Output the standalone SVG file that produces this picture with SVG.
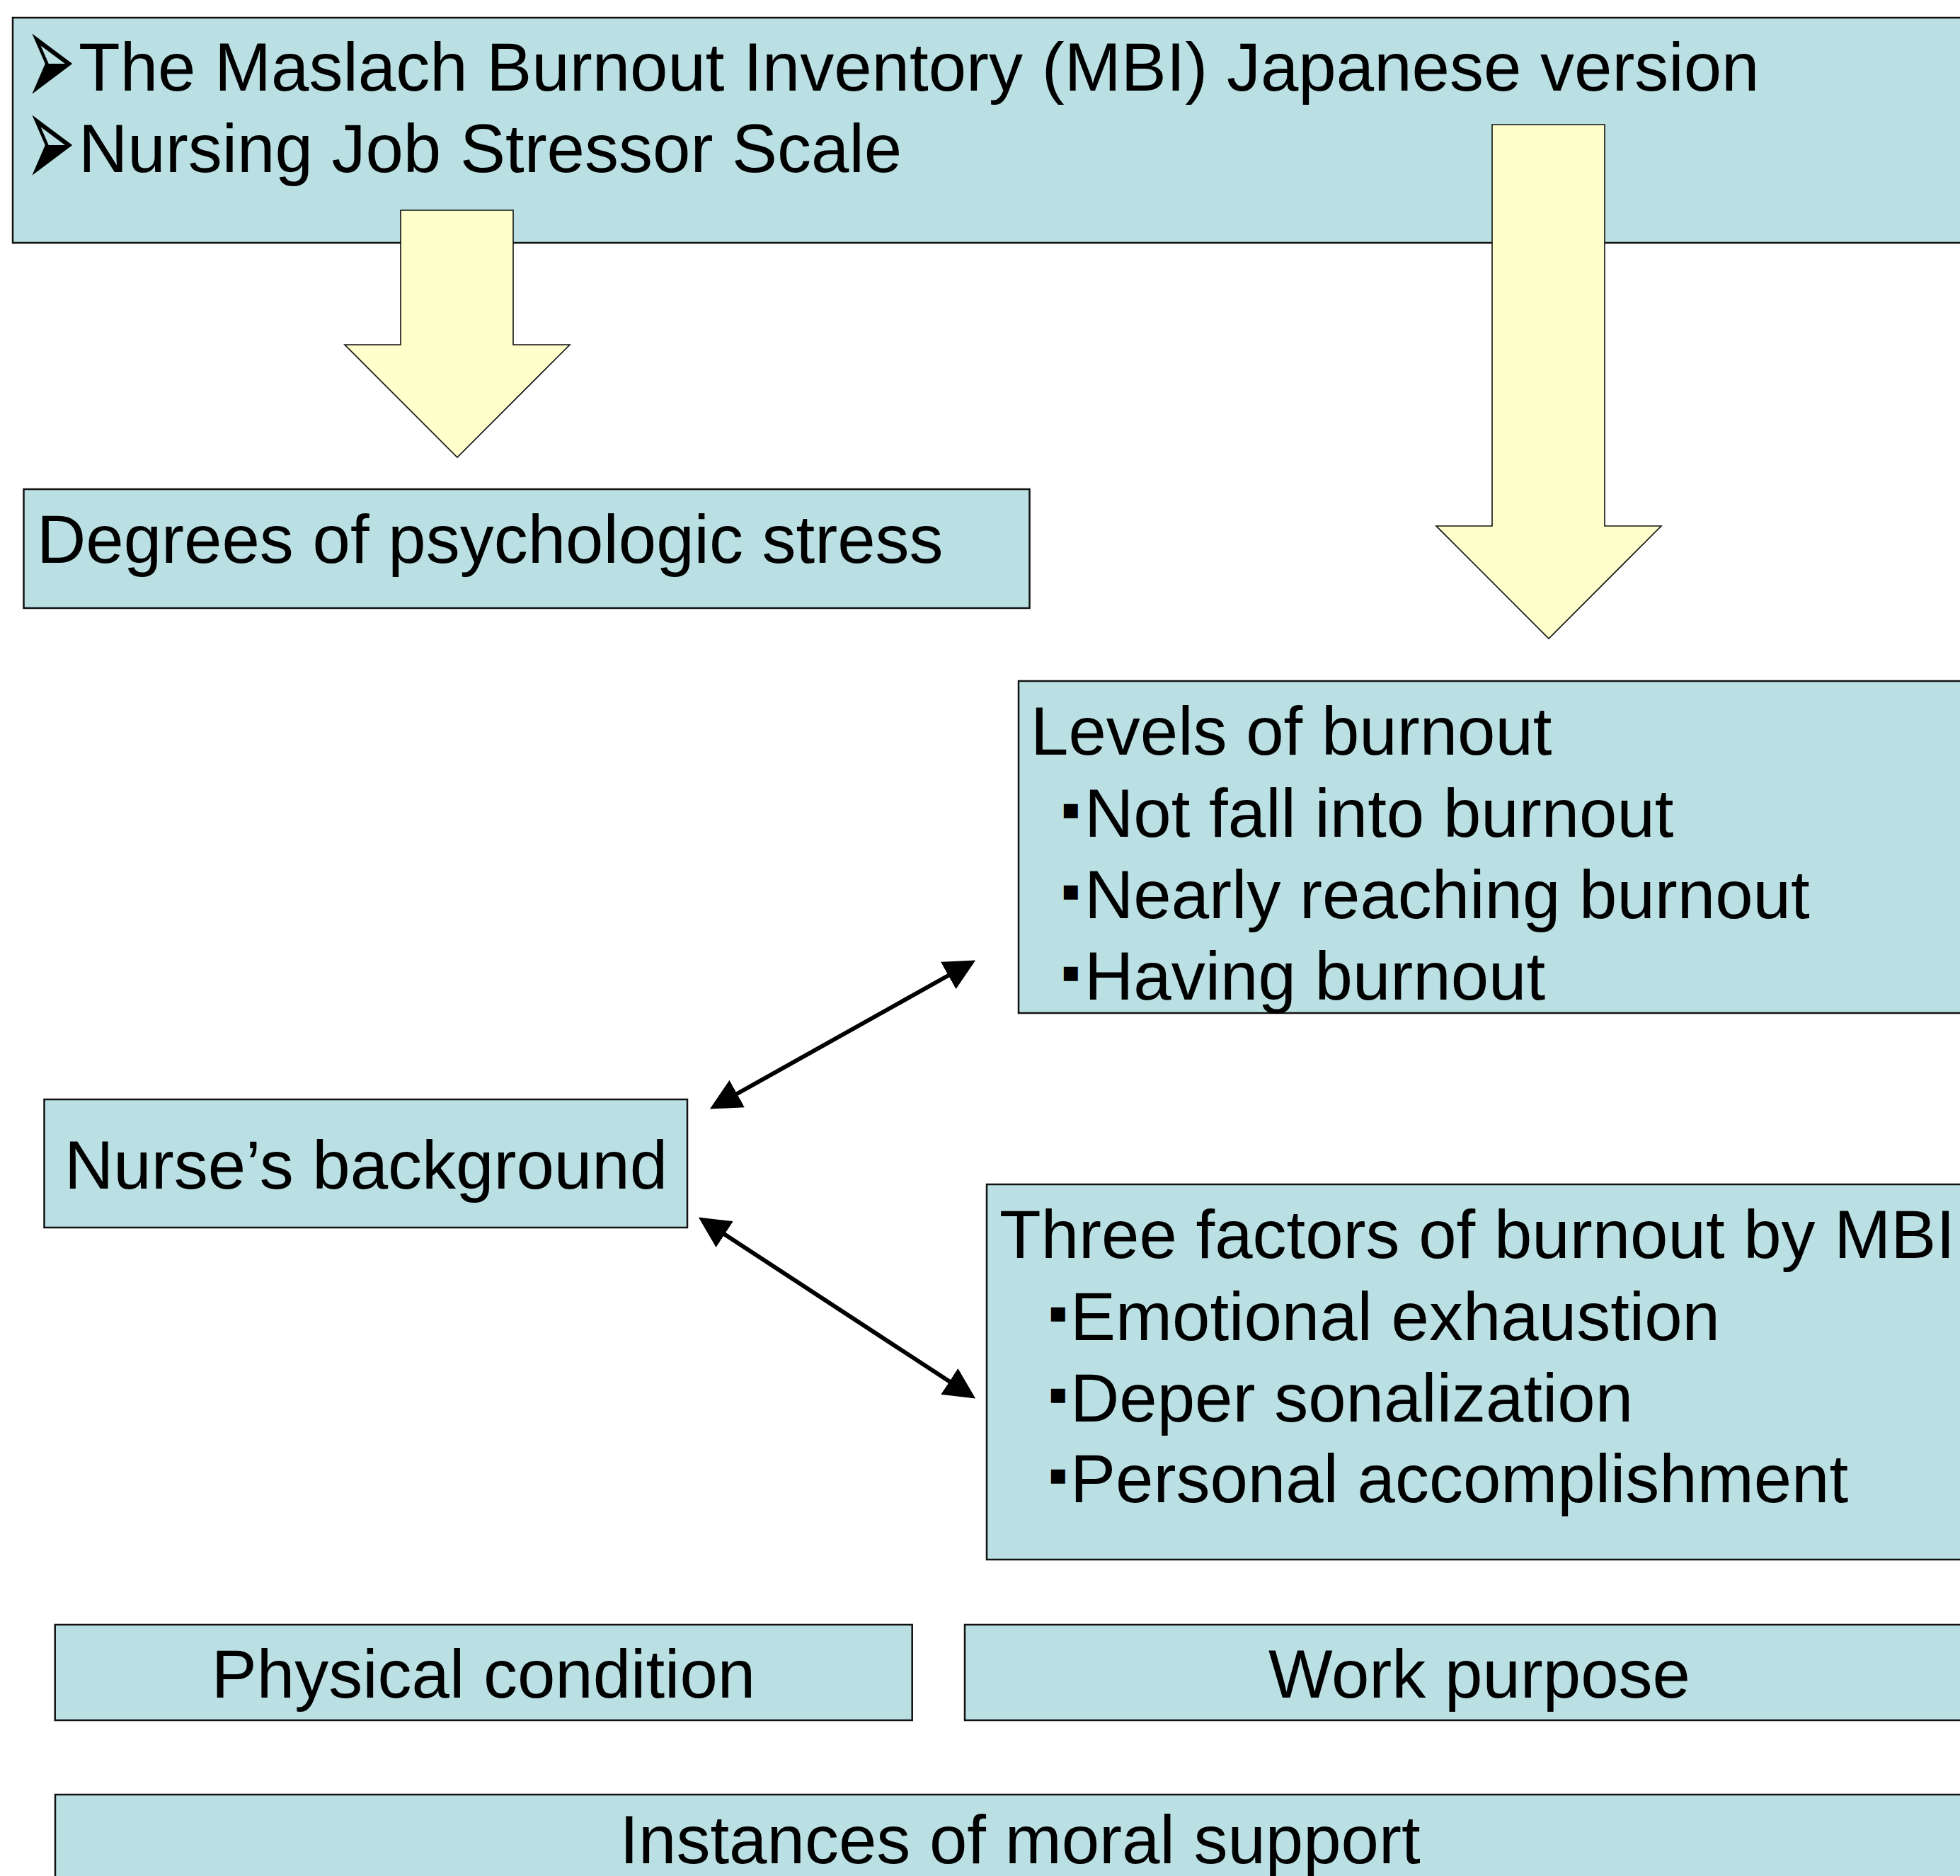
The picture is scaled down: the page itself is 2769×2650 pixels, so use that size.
<svg xmlns="http://www.w3.org/2000/svg" width="2769" height="2650" viewBox="0 0 2769 2650">
<defs>
<style>
.box{fill:#bae0e3;stroke:#111;stroke-width:2.5}
.yarrow{fill:#ffffcc;stroke:#111;stroke-width:1.6;stroke-linejoin:miter}
.t{font-family:"Liberation Sans",Arial,sans-serif;font-size:96px;fill:#000}
.c{text-anchor:middle}
.bul{font-family:"DejaVu Sans",sans-serif;font-size:40px;fill:#000}
.arw{font-family:"DejaVu Sans",sans-serif;font-size:80px;fill:#000}
.conn{stroke:#000;stroke-width:6;fill:none}
</style>
<marker id="head" markerUnits="userSpaceOnUse" markerWidth="44" markerHeight="44" viewBox="0 0 44 44" refX="2" refY="22" orient="auto-start-reverse">
<path d="M0,0 L44,22 L0,44 Z" fill="#000"/>
</marker>
</defs>
<rect width="2769" height="2650" fill="#fff"/>

<g id="node-instruments">
<rect class="box" x="18" y="25" width="2792" height="318"/>
<text class="arw" transform="translate(36,151) scale(1.05,2.43)">➢</text>
<text class="t" x="111" y="128">The Maslach Burnout Inventory (MBI) Japanese version</text>
<text class="arw" transform="translate(36,266) scale(1.05,2.43)">➢</text>
<text class="t" x="111" y="243">Nursing Job Stressor Scale</text>
</g>

<g id="node-arrow-left">
<polygon class="yarrow" points="566,297 725,297 725,487 805,487 646,646 487,487 566,487"/>
</g>
<g id="node-arrow-right">
<polygon class="yarrow" points="2108,176 2267,176 2267,743 2347,743 2188,902 2029,743 2108,743"/>
</g>

<g id="node-stress">
<rect class="box" x="33.5" y="691" width="1421" height="168"/>
<text class="t" x="52" y="795">Degrees of psychologic stress</text>
</g>

<g id="node-levels">
<rect class="box" x="1439" y="962" width="1371" height="469"/>
<text class="t" x="1456" y="1066">Levels of burnout</text>
<text class="bul" x="1499" y="1156">▪</text>
<text class="t" x="1532" y="1182">Not fall into burnout</text>
<text class="bul" x="1499" y="1271">▪</text>
<text class="t" x="1532" y="1297">Nearly reaching burnout</text>
<text class="bul" x="1499" y="1386">▪</text>
<text class="t" x="1532" y="1412">Having burnout</text>
</g>

<g id="node-background">
<rect class="box" x="62.5" y="1553" width="908.5" height="181"/>
<text class="t c" x="517" y="1679">Nurse’s background</text>
</g>

<g id="node-factors">
<rect class="box" x="1394" y="1673" width="1416" height="530"/>
<text class="t" x="1412" y="1777">Three factors of burnout by MBI</text>
<text class="bul" x="1481" y="1867">▪</text>
<text class="t" x="1512" y="1893">Emotional exhaustion</text>
<text class="bul" x="1481" y="1982">▪</text>
<text class="t" x="1512" y="2008">Deper sonalization</text>
<text class="bul" x="1481" y="2096">▪</text>
<text class="t" x="1512" y="2122">Personal accomplishment</text>
</g>

<g id="node-physical">
<rect class="box" x="77.7" y="2295" width="1211" height="135"/>
<text class="t c" x="683" y="2398">Physical condition</text>
</g>

<g id="node-work">
<rect class="box" x="1363" y="2295" width="1447" height="135"/>
<text class="t c" x="2090" y="2398">Work purpose</text>
</g>

<g id="node-support">
<rect class="box" x="78" y="2535" width="2732" height="200"/>
<text class="t c" x="1441" y="2632">Instances of moral support</text>
</g>

<g id="connectors">
<line class="conn" x1="1039.5" y1="1546" x2="1341.5" y2="1377" marker-start="url(#head)" marker-end="url(#head)"/>
<line class="conn" x1="1022" y1="1742.5" x2="1343" y2="1952.5" marker-start="url(#head)" marker-end="url(#head)"/>
</g>
</svg>
